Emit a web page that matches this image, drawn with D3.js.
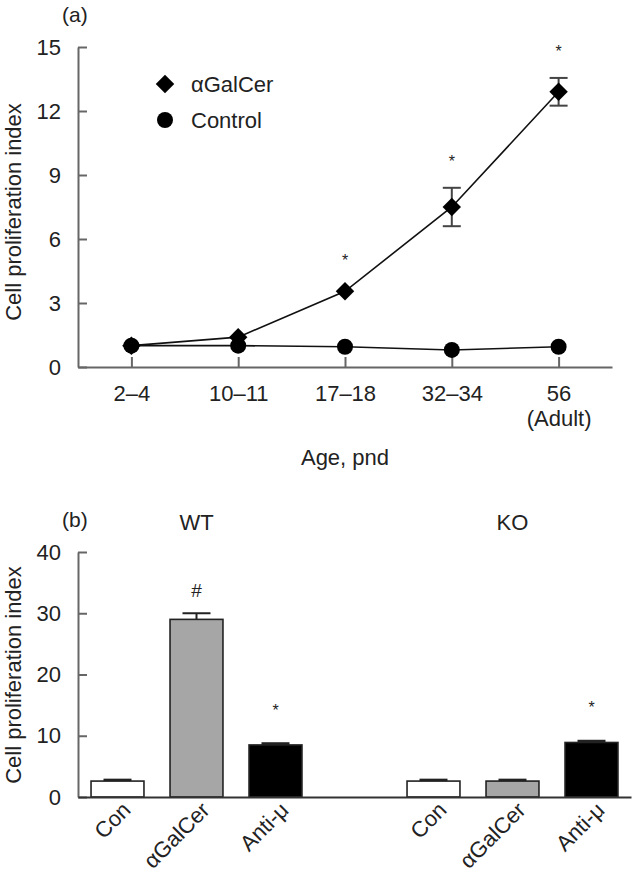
<!DOCTYPE html>
<html><head><meta charset="utf-8">
<script src="https://cdn.jsdelivr.net/npm/d3@7"></script>
<style>
body{margin:0;background:#fff;}
text{font-family:"Liberation Sans",Arial,sans-serif;fill:#222;}
</style></head>
<body><svg id="c" width="632" height="882"></svg>
<script>
// ---------- Panel (a) data ----------
const ageCategories = ["2–4","10–11","17–18","32–34","56"];
const ageSubLabels  = ["","","","","(Adult)"];
const galcerValues  = [1.0, 1.4, 3.55, 7.5, 12.9];
const galcerErrors  = [0.1, 0.15, 0.2, 0.9, 0.65];
const controlValues = [1.0, 1.0, 0.95, 0.8, 0.95];
const controlErrors = [0.05, 0.05, 0.05, 0.05, 0.05];
const galcerSig     = [false, false, true, true, true];
const yTicksA       = [0,3,6,9,12,15];

// ---------- Panel (b) data ----------
const groups        = ["WT","KO"];
const treatments    = ["Con","αGalCer","Anti-μ"];
const wtValues      = [2.6, 29.0, 8.5];
const wtErrors      = [0.15, 1.0, 0.2];
const koValues      = [2.6, 2.6, 8.9];
const koErrors      = [0.15, 0.15, 0.2];
const wtMarks       = ["", "#", "*"];
const koMarks       = ["", "", "*"];
const barFills      = ["#ffffff", "#a6a6a6", "#000000"];
const yTicksB       = [0,10,20,30,40];

const svg = d3.select("#c");
const FS = 22;
const axisColor = "#666";

function styleAxis(g){
  g.selectAll("path.domain").attr("stroke", axisColor).attr("stroke-width", 2);
  g.selectAll(".tick line").attr("stroke", axisColor).attr("stroke-width", 2);
  g.selectAll(".tick text").style("font-size", FS+"px").attr("fill","#222")
    .style("font-family",'"Liberation Sans",Arial,sans-serif');
}

// ================= Panel (a) =================
const xA = d3.scalePoint().domain(ageCategories).range([78, 612]).padding(0.5);
const yA = d3.scaleLinear().domain([0, 15]).range([367, 47]);

const gYA = svg.append("g").attr("transform","translate(78,0)")
  .call(d3.axisLeft(yA).tickValues(yTicksA).tickSizeInner(-9).tickSizeOuter(0).tickPadding(17));
styleAxis(gYA);

const gXA = svg.append("g").attr("transform","translate(0,367)")
  .call(d3.axisBottom(xA).tickSizeInner(-10).tickSizeOuter(0).tickPadding(18));
styleAxis(gXA);
gXA.selectAll(".tick text").each(function(d,i){
  if(ageSubLabels[i]){
    d3.select(this).append("tspan").attr("x",0).attr("dy","1.15em").text(ageSubLabels[i]);
  }
});

svg.append("text").attr("x",62).attr("y",22).style("font-size","21px").text("(a)");
svg.append("text").attr("x",345).attr("y",465).attr("text-anchor","middle")
  .style("font-size",FS+"px").text("Age, pnd");
svg.append("text").attr("transform","translate(21,212) rotate(-90)")
  .attr("text-anchor","middle").style("font-size",FS+"px").text("Cell proliferation index");

const line = d3.line().x((d,i)=>xA(ageCategories[i])).y(d=>yA(d));
svg.append("path").datum(controlValues).attr("d",line)
  .attr("fill","none").attr("stroke","#111").attr("stroke-width",1.6);
svg.append("path").datum(galcerValues).attr("d",line)
  .attr("fill","none").attr("stroke","#111").attr("stroke-width",1.6);

function errBars(values, errors, cap){
  const g = svg.append("g").attr("stroke","#444").attr("stroke-width",2);
  values.forEach((v,i)=>{
    const x = xA(ageCategories[i]);
    const e = errors[i];
    if (yA(v-e)-yA(v+e) < 12) return;
    g.append("line").attr("x1",x).attr("x2",x).attr("y1",yA(v-e)).attr("y2",yA(v+e));
    g.append("line").attr("x1",x-cap).attr("x2",x+cap).attr("y1",yA(v+e)).attr("y2",yA(v+e));
    g.append("line").attr("x1",x-cap).attr("x2",x+cap).attr("y1",yA(v-e)).attr("y2",yA(v-e));
  });
}
errBars(galcerValues, galcerErrors, 9);

svg.append("g").selectAll("circle").data(controlValues).join("circle")
  .attr("cx",(d,i)=>xA(ageCategories[i])).attr("cy",d=>yA(d)).attr("r",8).attr("fill","#000");
const diamond = d3.symbol().type(d3.symbolSquare).size(170);
svg.append("g").selectAll("path").data(galcerValues).join("path")
  .attr("d",diamond).attr("transform",(d,i)=>`translate(${xA(ageCategories[i])},${yA(d)}) rotate(45)`)
  .attr("fill","#000");

svg.append("g").selectAll("text").data(galcerValues).join("text")
  .filter((d,i)=>galcerSig[i])
  .attr("x",(d,i)=>xA(ageCategories[galcerValues.indexOf(d)]))
  .attr("y",d=>{const i=galcerValues.indexOf(d); return yA(d+galcerErrors[i]) - 30 + 9;})
  .attr("text-anchor","middle").style("font-size","16px").text("*");

// legend
svg.append("path").attr("d",diamond).attr("transform","translate(165,84) rotate(45)").attr("fill","#000");
svg.append("text").attr("x",191).attr("y",92).style("font-size",FS+"px").text("αGalCer");
svg.append("circle").attr("cx",165).attr("cy",120).attr("r",8).attr("fill","#000");
svg.append("text").attr("x",191).attr("y",128).style("font-size",FS+"px").text("Control");

// ================= Panel (b) =================
const slots = ["WT|Con","WT|αGalCer","WT|Anti-μ","gap","KO|Con","KO|αGalCer","KO|Anti-μ"];
const xB = d3.scaleBand().domain(slots).range([78, 631]).paddingInner(0.33).paddingOuter(0.165);
const yB = d3.scaleLinear().domain([0, 40]).range([797, 552]);

const barData = [];
treatments.forEach((t,i)=>barData.push({key:"WT|"+t, label:t, v:wtValues[i], e:wtErrors[i], fill:barFills[i], mark:wtMarks[i]}));
treatments.forEach((t,i)=>barData.push({key:"KO|"+t, label:t, v:koValues[i], e:koErrors[i], fill:barFills[i], mark:koMarks[i]}));

const eg = svg.append("g").attr("stroke","#222").attr("stroke-width",2);
barData.forEach(d=>{
  const cx = xB(d.key)+xB.bandwidth()/2;
  eg.append("line").attr("x1",cx).attr("x2",cx).attr("y1",yB(d.v)).attr("y2",yB(d.v+d.e));
  eg.append("line").attr("x1",cx-14).attr("x2",cx+14).attr("y1",yB(d.v+d.e)).attr("y2",yB(d.v+d.e))
    .attr("stroke-width", d.e<0.5?3:2);
});

svg.append("g").selectAll("rect").data(barData).join("rect")
  .attr("x",d=>xB(d.key)).attr("width",xB.bandwidth())
  .attr("y",d=>yB(d.v)).attr("height",d=>yB(0)-yB(d.v))
  .attr("fill",d=>d.fill).attr("stroke","#222").attr("stroke-width",1.6);

svg.append("g").selectAll("text").data(barData.filter(d=>d.mark)).join("text")
  .attr("x",d=>xB(d.key)+xB.bandwidth()/2)
  .attr("y",d=>d.mark==="#"? yB(d.v+d.e)-16 : yB(d.v+d.e)-28)
  .attr("text-anchor","middle").style("font-size",d=>d.mark==="#"?"19px":"16px").text(d=>d.mark);

const gYB = svg.append("g").attr("transform","translate(78,0)")
  .call(d3.axisLeft(yB).tickValues(yTicksB).tickSizeInner(-9).tickSizeOuter(0).tickPadding(17));
styleAxis(gYB);

const gXB = svg.append("g").attr("transform","translate(0,797)")
  .call(d3.axisBottom(xB).tickSize(0).tickFormat(""));
styleAxis(gXB);
gXB.selectAll("path.domain").attr("stroke","#333");

svg.append("g").selectAll("text").data(barData).join("text")
  .attr("transform",d=>`translate(${xB(d.key)+xB.bandwidth()/2+9},${806}) rotate(-45)`)
  .attr("text-anchor","end").attr("dy","0.35em").style("font-size",FS+"px").text(d=>d.label);

svg.append("text").attr("x",62).attr("y",527).style("font-size","21px").text("(b)");
const groupCenter = g => {
  const a = xB(g+"|Con"), b = xB(g+"|Anti-μ")+xB.bandwidth();
  return (a+b)/2;
};
svg.append("g").selectAll("text").data(groups).join("text")
  .attr("x",d=>groupCenter(d)).attr("y",530).attr("text-anchor","middle")
  .style("font-size",FS+"px").text(d=>d);
svg.append("text").attr("transform","translate(21,675) rotate(-90)")
  .attr("text-anchor","middle").style("font-size",FS+"px").text("Cell proliferation index");
</script></body></html>
